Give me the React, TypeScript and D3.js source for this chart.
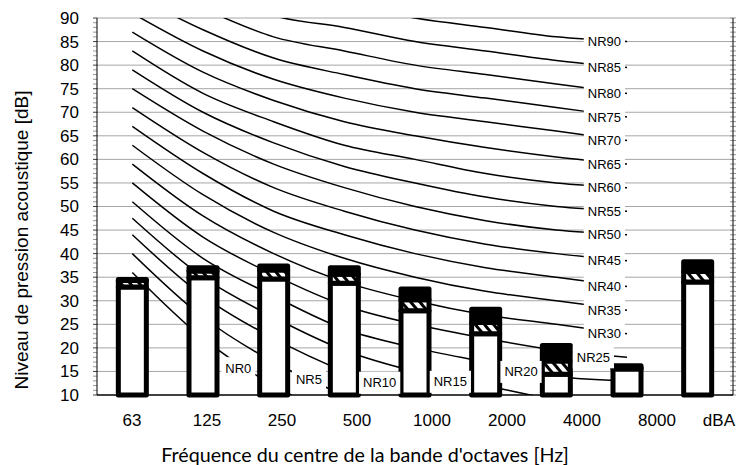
import React, { useEffect, useRef } from 'react';
import * as d3 from 'd3';

const categories = ['63', '125', '250', '500', '1000', '2000', '4000', '8000', 'dBA'];

// bar levels [dB]: top of plain part, top of hatched band, top of black cap
const barLow = [32.9, 34.9, 34.6, 33.7, 27.9, 23.0, 14.4, 15.5, 34.0];
const barMid = [34.3, 36.3, 36.5, 35.6, 30.2, 25.4, 17.2, 15.8, 36.2];
const barHigh = [34.5, 37.0, 37.4, 37.0, 32.5, 28.2, 20.5, 16.2, 38.3];

// NR curves, 63 Hz .. 8000 Hz
const nrLevels = [0, 5, 10, 15, 20, 25, 30, 35, 40, 45, 50, 55, 60, 65, 70, 75, 80, 85, 90];
const nrValues = [
  [36, 22, 12, 5, 0, -4, -6, -8],
  [40, 26.5, 17, 10, 5, 1.5, -1, -3],
  [44, 31, 22, 15, 10, 7, 4, 2],
  [47.5, 35, 26.5, 19.5, 15, 12, 9, 7.5],
  [51, 39, 31, 24, 20, 17, 14, 13],
  [55, 43.5, 35.5, 29, 25, 22, 19.5, 18],
  [59, 48, 40, 34, 30, 27, 25, 23],
  [63, 52.5, 44.5, 39, 35, 32, 30, 28],
  [67, 57, 49, 44, 40, 37, 35, 33],
  [71, 61.5, 54, 49, 45, 42, 40, 38.5],
  [75, 66, 59, 54, 50, 47, 45, 44],
  [79, 70, 63.5, 58.5, 55, 52, 50, 49],
  [83, 74, 68, 63, 60, 57, 55, 54],
  [87, 78.5, 72.5, 68, 65, 62.5, 60.5, 59],
  [91, 83, 77, 73, 70, 68, 66, 64],
  [95, 87.5, 81.5, 78, 75, 73, 71, 69],
  [99, 92, 86, 83, 80, 78, 76, 74],
  [103, 96.5, 90.5, 88, 85, 83, 81, 79.5],
  [107, 101, 95, 93, 90, 88, 86, 85],
];

// labels of the low curves sit along the curve (category index, dB)
const lowLabelSpots: Record<number, [number, number]> = {
  0: [1.5, 15.7],
  5: [2.5, 13.2],
  10: [3.5, 12.6],
  15: [4.5, 12.8],
  20: [5.5, 14.9],
};

const W = 737;
const H = 465;
const margin = { top: 18, right: 4, bottom: 70, left: 97 };
const arial = 'Liberation Sans, Arial, sans-serif';

const App: React.FC = () => {
  const svgRef = useRef<SVGSVGElement>(null);

  useEffect(() => {
    if (!svgRef.current) return;
    const svg = d3.select(svgRef.current);
    svg.selectAll('*').remove();

    const left = margin.left;
    const right = W - margin.right;
    const top = margin.top;
    const bottom = H - margin.bottom;

    const x = d3.scaleBand<string>().domain(categories).range([left, right]);
    const cx = (i: number) => (x(categories[0]) as number) + x.bandwidth() / 2 + i * x.step();
    const y = d3.scaleLinear().domain([10, 90]).range([bottom, top]);
    // tick labels are spread a bit wider than the bars
    const xLab = d3.scalePoint<string>().domain(categories).range([132, 732]);

    const defs = svg.append('defs');
    defs.append('clipPath').attr('id', 'plot')
      .append('rect').attr('x', left).attr('y', top).attr('width', right - left).attr('height', bottom - top);
    const pat = defs.append('pattern').attr('id', 'hatch')
      .attr('patternUnits', 'userSpaceOnUse').attr('width', 7).attr('height', 7)
      .attr('patternTransform', 'rotate(-40)');
    pat.append('rect').attr('width', 7).attr('height', 7).attr('fill', '#fff');
    pat.append('rect').attr('width', 3).attr('height', 7).attr('fill', '#000');

    // grid
    svg.append('g').selectAll('line').data(d3.range(15, 91, 5)).join('line')
      .attr('x1', left).attr('x2', right)
      .attr('y1', d => y(d)).attr('y2', d => y(d))
      .attr('stroke', '#a6a6a6').attr('stroke-width', 1);

    // NR curves
    const line = d3.line<number>()
      .x((_, i) => cx(i))
      .y(d => y(d))
      .curve(d3.curveCardinal.tension(0));
    svg.append('g').attr('clip-path', 'url(#plot)')
      .selectAll('path').data(nrValues).join('path')
      .attr('d', d => line(d))
      .attr('fill', 'none').attr('stroke', '#000').attr('stroke-width', 1.5);

    // bars
    const bw = 28;
    const bars = svg.append('g').attr('stroke', '#000').attr('stroke-width', 5).attr('stroke-linejoin', 'round');
    categories.forEach((_, i) => {
      const bx = cx(i) - bw / 2;
      bars.append('rect').attr('x', bx).attr('width', bw)
        .attr('y', y(barLow[i])).attr('height', y(10) - y(barLow[i])).attr('fill', '#fff');
      bars.append('rect').attr('x', bx).attr('width', bw)
        .attr('y', y(barMid[i])).attr('height', y(barLow[i]) - y(barMid[i])).attr('fill', 'url(#hatch)');
      bars.append('rect').attr('x', bx).attr('width', bw)
        .attr('y', y(barHigh[i])).attr('height', y(barMid[i]) - y(barHigh[i])).attr('fill', '#000');
    });

    // NR labels
    const fs = 13;
    const labels = svg.append('g').attr('font-family', arial).attr('font-size', fs);
    nrLevels.forEach((lvl, k) => {
      const txt = `NR${lvl}`;
      const tw = fs * (1.444 + 0.556 * String(lvl).length);
      let tx: number;
      let ty: number;
      if (lowLabelSpots[lvl]) {
        const [idx, v] = lowLabelSpots[lvl];
        tx = cx(idx);
        ty = y(v);
      } else {
        const vals = nrValues[k];
        tx = cx(7) - (lvl === 25 ? 17 : 6) - tw / 2;
        ty = y(vals[vals.length - 1]);
      }
      labels.append('rect').attr('x', tx - tw / 2 - 4).attr('y', ty - 11)
        .attr('width', tw + 8).attr('height', 22).attr('fill', '#fff');
      labels.append('text').attr('x', tx).attr('y', ty).attr('dy', '0.35em')
        .attr('text-anchor', 'middle').attr('fill', '#000').text(txt);
    });

    // axes lines and ticks
    const ax = svg.append('g');
    ax.selectAll('line.minor').data(d3.range(10, 91, 1)).join('line')
      .attr('class', 'minor')
      .attr('x1', left - 4).attr('x2', left).attr('y1', d => y(d)).attr('y2', d => y(d))
      .attr('stroke', d => (d % 5 === 0 ? '#404040' : '#9a9a9a')).attr('stroke-width', 1);
    ax.selectAll('line.rminor').data(d3.range(10, 91, 1)).join('line')
      .attr('class', 'rminor')
      .attr('x1', right - 3).attr('x2', right + 3).attr('y1', d => y(d)).attr('y2', d => y(d))
      .attr('stroke', '#9a9a9a').attr('stroke-width', 1);
    ax.append('line').attr('x1', left).attr('x2', left).attr('y1', top).attr('y2', bottom)
      .attr('stroke', '#000').attr('stroke-width', 1);
    ax.append('line').attr('x1', right).attr('x2', right).attr('y1', top).attr('y2', bottom)
      .attr('stroke', '#000').attr('stroke-width', 1);
    ax.append('line').attr('x1', left).attr('x2', right).attr('y1', bottom).attr('y2', bottom)
      .attr('stroke', '#000').attr('stroke-width', 1.5);

    // y tick labels
    svg.append('g').attr('font-family', arial).attr('font-size', 17).attr('text-anchor', 'end')
      .selectAll('text').data(d3.range(10, 91, 5)).join('text')
      .attr('x', 79).attr('y', d => y(d)).attr('dy', '0.35em').text(d => d);

    // x tick labels (the last one is pushed inside the picture)
    const last = categories[categories.length - 1];
    svg.append('g').attr('font-family', arial).attr('font-size', 17)
      .selectAll('text').data(categories).join('text')
      .attr('text-anchor', d => (d === last ? 'end' : 'middle'))
      .attr('x', d => (d === last ? W - 2 : (xLab(d) as number)))
      .attr('y', 420).attr('dy', '0.35em').text(d => d);

    // titles
    svg.append('text').attr('font-family', arial).attr('font-size', 19)
      .attr('text-anchor', 'middle')
      .attr('transform', `translate(21,240) rotate(-90)`)
      .attr('dy', '0.35em').text('Niveau de pression acoustique [dB]');
    svg.append('text').attr('font-family', 'Lato, Open Sans, sans-serif').attr('font-size', 19.7)
      .attr('text-anchor', 'middle').attr('x', 365).attr('y', 455).attr('dy', '0.35em')
      .text("Fréquence du centre de la bande d'octaves [Hz]");
  }, []);

  return (
    <svg ref={svgRef} width={W} height={H} style={{ position: 'absolute', left: 0, top: 0, background: '#fff' }} />
  );
};

export default App;
